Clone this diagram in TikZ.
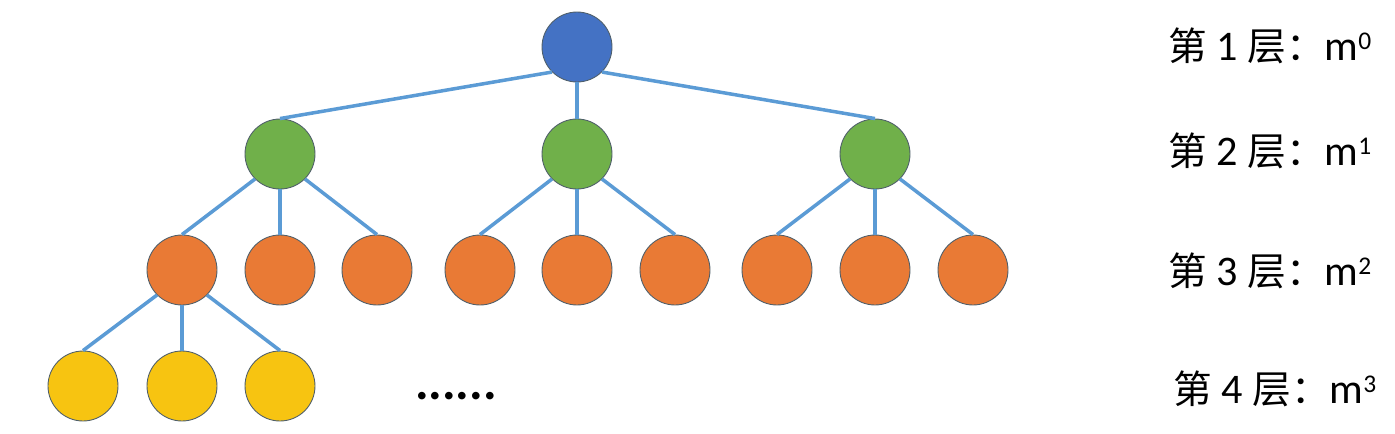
\documentclass[tikz,border=0pt]{standalone}
\usepackage{fontspec}
\setmainfont{Carlito}
\newfontfamily\cjk{Noto Sans CJK SC}
\usetikzlibrary{positioning}
\definecolor{rootblue}{HTML}{4472C4}
\definecolor{leafgreen}{HTML}{70B04A}
\definecolor{nodeorange}{HTML}{E97A35}
\definecolor{nodeyellow}{HTML}{F7C411}
\definecolor{linkblue}{HTML}{5B9BD5}
\definecolor{rimgray}{HTML}{4F5F6A}
\newcommand{\pw}[1]{\raisebox{5.7pt}{\fontsize{14.5}{15}\selectfont #1}}
\newcommand{\layertext}[2]{{\cjk\fontsize{22}{26}\selectfont 第} #1 {\cjk\fontsize{22}{26}\selectfont 层：}m\pw{#2}}

\begin{document}
\begin{tikzpicture}[x=0.02cm, y=-0.02cm]
\tikzset{
  base/.style={draw=rimgray, line width=0.5pt, circle, minimum size=1.4cm, inner sep=0pt},
  lvlone/.style={base, fill=rootblue},
  lvltwo/.style={base, fill=leafgreen},
  lvlthree/.style={base, fill=nodeorange},
  lvlfour/.style={base, fill=nodeyellow},
  link/.style={draw=linkblue, line width=2pt},
  layer/.style={anchor=base west, inner sep=0pt, font=\fontsize{24}{28}\selectfont}
}
\useasboundingbox (0,0) rectangle (1395,433);

% root and second level
\node [lvlone] (r) at (577,47) {};
\node [lvltwo] (g1) at (280,154) {};
\node [lvltwo] (g2) at (577,154) {};
\node [lvltwo] (g3) at (875,154) {};
\draw [link] (r.south west) -- (g1.north);
\draw [link] (r.south) -- (g2.north);
\draw [link] (r.south east) -- (g3.north);

% third level
\foreach \x [count=\i] in {182,280,377,480,577,675,777,875,973}
  \node [lvlthree] (o\i) at (\x,270) {};
\foreach \g/\a/\b/\c in {g1/o1/o2/o3, g2/o4/o5/o6, g3/o7/o8/o9} {
  \draw [link] (\g.south west) -- (\a.north);
  \draw [link] (\g.south) -- (\b.north);
  \draw [link] (\g.south east) -- (\c.north);
}

% fourth level
\foreach \x [count=\i] in {83,182,280}
  \node [lvlfour] (y\i) at (\x,386) {};
\draw [link] (o1.south west) -- (y1.north);
\draw [link] (o1.south) -- (y2.north);
\draw [link] (o1.south east) -- (y3.north);
\node [font=\fontsize{29}{30}\selectfont\bfseries, inner sep=0pt] (more) at (456,396) {......};

% layer counts
\node [layer] (l1) at (1168,60) {\layertext{1}{0}};
\node [layer] (l2) at (1168,165) {\layertext{2}{1}};
\node [layer] (l3) at (1168,285) {\layertext{3}{2}};
\node [layer] (l4) at (1173,403) {\layertext{4}{3}};
\end{tikzpicture}
\end{document}
